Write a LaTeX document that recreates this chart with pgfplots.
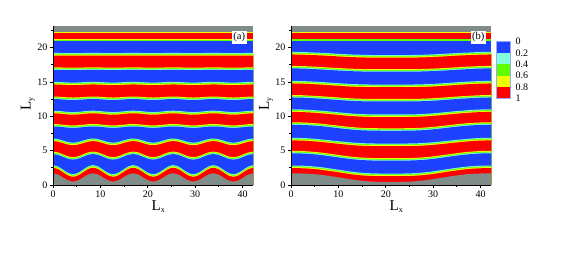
\documentclass[border=0pt]{standalone}
\usepackage{pgfplots}
\usepackage{pgfplotstable}
\pgfplotsset{compat=1.18}
\usepackage{fontspec}
\setmainfont{Liberation Serif}
\definecolor{cB}{HTML}{1E40FF}
\definecolor{cC}{HTML}{80FFD8}
\definecolor{cG}{HTML}{60FF00}
\definecolor{cY}{HTML}{F0FF00}
\definecolor{cR}{HTML}{FF0000}
\definecolor{cS}{HTML}{808C88}
\pgfplotstableread{
x I0 I1 I2 I3 I4 I5 I6 I7 I8 I9
0.00 1.70 2.67 4.60 6.55 8.62 10.60 12.62 14.80 16.87 19.01
1.06 1.52 2.47 4.48 6.46 8.59 10.57 12.60 14.79 16.86 19.01
2.12 1.10 2.01 4.20 6.25 8.52 10.50 12.55 14.75 16.85 19.00
3.17 0.68 1.55 3.92 6.04 8.45 10.43 12.50 14.71 16.84 18.99
4.23 0.50 1.36 3.80 5.95 8.42 10.40 12.48 14.70 16.83 18.99
5.29 0.68 1.55 3.92 6.04 8.45 10.43 12.50 14.71 16.84 18.99
6.35 1.10 2.01 4.20 6.25 8.52 10.50 12.55 14.75 16.85 19.00
7.40 1.52 2.47 4.48 6.46 8.59 10.57 12.60 14.79 16.86 19.01
8.46 1.70 2.67 4.60 6.55 8.62 10.60 12.62 14.80 16.87 19.01
9.52 1.52 2.47 4.48 6.46 8.59 10.57 12.60 14.79 16.86 19.01
10.58 1.10 2.01 4.20 6.25 8.52 10.50 12.55 14.75 16.85 19.00
11.63 0.68 1.55 3.92 6.04 8.45 10.43 12.50 14.71 16.84 18.99
12.69 0.50 1.36 3.80 5.95 8.42 10.40 12.48 14.70 16.83 18.99
13.75 0.68 1.55 3.92 6.04 8.45 10.43 12.50 14.71 16.84 18.99
14.81 1.10 2.01 4.20 6.25 8.52 10.50 12.55 14.75 16.85 19.00
15.86 1.52 2.47 4.48 6.46 8.59 10.57 12.60 14.79 16.86 19.01
16.92 1.70 2.67 4.60 6.55 8.62 10.60 12.62 14.80 16.87 19.01
17.98 1.52 2.47 4.48 6.46 8.59 10.57 12.60 14.79 16.86 19.01
19.04 1.10 2.01 4.20 6.25 8.52 10.50 12.55 14.75 16.85 19.00
20.09 0.68 1.55 3.92 6.04 8.45 10.43 12.50 14.71 16.84 18.99
21.15 0.50 1.36 3.80 5.95 8.42 10.40 12.48 14.70 16.83 18.99
22.21 0.68 1.55 3.92 6.04 8.45 10.43 12.50 14.71 16.84 18.99
23.27 1.10 2.01 4.20 6.25 8.52 10.50 12.55 14.75 16.85 19.00
24.32 1.52 2.47 4.48 6.46 8.59 10.57 12.60 14.79 16.86 19.01
25.38 1.70 2.67 4.60 6.55 8.62 10.60 12.62 14.80 16.87 19.01
26.44 1.52 2.47 4.48 6.46 8.59 10.57 12.60 14.79 16.86 19.01
27.50 1.10 2.01 4.20 6.25 8.52 10.50 12.55 14.75 16.85 19.00
28.55 0.68 1.55 3.92 6.04 8.45 10.43 12.50 14.71 16.84 18.99
29.61 0.50 1.36 3.80 5.95 8.42 10.40 12.48 14.70 16.83 18.99
30.67 0.68 1.55 3.92 6.04 8.45 10.43 12.50 14.71 16.84 18.99
31.73 1.10 2.01 4.20 6.25 8.52 10.50 12.55 14.75 16.85 19.00
32.78 1.52 2.47 4.48 6.46 8.59 10.57 12.60 14.79 16.86 19.01
33.84 1.70 2.67 4.60 6.55 8.62 10.60 12.62 14.80 16.87 19.01
34.90 1.52 2.47 4.48 6.46 8.59 10.57 12.60 14.79 16.86 19.01
35.96 1.10 2.01 4.20 6.25 8.52 10.50 12.55 14.75 16.85 19.00
37.01 0.68 1.55 3.92 6.04 8.45 10.43 12.50 14.71 16.84 18.99
38.07 0.50 1.36 3.80 5.95 8.42 10.40 12.48 14.70 16.83 18.99
39.13 0.68 1.55 3.92 6.04 8.45 10.43 12.50 14.71 16.84 18.99
40.19 1.10 2.01 4.20 6.25 8.52 10.50 12.55 14.75 16.85 19.00
41.24 1.52 2.47 4.48 6.46 8.59 10.57 12.60 14.79 16.86 19.01
42.30 1.70 2.67 4.60 6.55 8.62 10.60 12.62 14.80 16.87 19.01
}\tabA
\pgfplotstableread{
x I0 I1 I2 I3 I4 I5 I6 I7 I8 I9
0.00 1.70 2.62 4.72 6.65 8.88 10.80 12.85 14.95 17.08 19.17
2.12 1.68 2.60 4.69 6.63 8.85 10.78 12.82 14.92 17.06 19.15
4.23 1.62 2.52 4.60 6.55 8.78 10.71 12.75 14.86 17.00 19.09
6.35 1.48 2.37 4.46 6.42 8.66 10.60 12.66 14.78 16.92 19.03
8.46 1.28 2.17 4.26 6.27 8.50 10.47 12.56 14.68 16.83 18.95
10.58 1.05 1.95 4.06 6.12 8.33 10.33 12.45 14.58 16.75 18.86
12.69 0.82 1.73 3.87 5.98 8.18 10.20 12.36 14.49 16.68 18.79
14.81 0.63 1.57 3.74 5.88 8.07 10.11 12.30 14.44 16.63 18.74
16.92 0.50 1.48 3.67 5.83 8.02 10.06 12.27 14.41 16.60 18.71
19.04 0.45 1.45 3.65 5.82 8.00 10.05 12.27 14.40 16.60 18.70
21.15 0.45 1.45 3.65 5.82 8.00 10.05 12.27 14.40 16.60 18.70
23.27 0.45 1.45 3.65 5.82 8.00 10.05 12.27 14.40 16.60 18.70
25.38 0.50 1.48 3.67 5.83 8.02 10.06 12.27 14.41 16.60 18.71
27.50 0.63 1.57 3.74 5.88 8.07 10.11 12.30 14.44 16.63 18.74
29.61 0.82 1.73 3.87 5.98 8.18 10.20 12.36 14.49 16.68 18.79
31.73 1.05 1.95 4.06 6.12 8.33 10.33 12.45 14.58 16.75 18.86
33.84 1.28 2.17 4.26 6.27 8.50 10.47 12.56 14.68 16.83 18.95
35.96 1.48 2.37 4.46 6.42 8.66 10.60 12.66 14.78 16.92 19.03
38.07 1.62 2.52 4.60 6.55 8.78 10.71 12.75 14.86 17.00 19.09
40.19 1.68 2.60 4.69 6.63 8.85 10.78 12.82 14.92 17.06 19.15
42.30 1.70 2.62 4.72 6.65 8.88 10.80 12.85 14.95 17.08 19.17
}\tabB
% one colour boundary: fill everything below the curve (painted from the top down)
\newcommand\lay[4]{\addplot[fill=#4,draw=none,smooth,forget plot] table[x=x,y expr=\thisrow{#2}+#3]{#1} \closedcycle;}
% going downward: red above, blue below
\newcommand\RoverB[2]{\lay{#1}{#2}{0.26}{cY}\lay{#1}{#2}{0.14}{cG}\lay{#1}{#2}{0.02}{cC}\lay{#1}{#2}{-0.10}{cB}}
% going downward: blue above, red below
\newcommand\BoverR[2]{\lay{#1}{#2}{0.22}{cC}\lay{#1}{#2}{0.10}{cG}\lay{#1}{#2}{-0.02}{cY}\lay{#1}{#2}{-0.16}{cR}}
\newcommand\stack[3]{%
 \addplot[fill=cY,draw=none,forget plot] coordinates {(0,22.3)(42.3,22.3)} \closedcycle;
 \addplot[fill=cR,draw=none,forget plot] coordinates {(0,22.16)(42.3,22.16)} \closedcycle;
 \addplot[fill=cY,draw=none,forget plot] coordinates {(0,#2)(42.3,#2)} \closedcycle;
 \addplot[fill=cG,draw=none,forget plot] coordinates {(0,#3)(42.3,#3)} \closedcycle;
 \addplot[fill=cB,draw=none,forget plot] coordinates {(0,21.0)(42.3,21.0)} \closedcycle;
 \BoverR{#1}{I9}\RoverB{#1}{I8}\BoverR{#1}{I7}\RoverB{#1}{I6}\BoverR{#1}{I5}
 \RoverB{#1}{I4}\BoverR{#1}{I3}\RoverB{#1}{I2}\BoverR{#1}{I1}
 \lay{#1}{I0}{0}{cS}
}
\pgfplotsset{panel/.style={
 scale only axis,width=200.4bp,height=159.3bp,anchor=south west,
 xmin=0,xmax=42.3,ymin=0,ymax=23.2,
 axis on top,axis background/.style={fill=cS},
 axis y line*=left,axis x line*=bottom,
 axis line style={-,line width=1pt},
 xtick={0,10,20,30,40},ytick={0,5,10,15,20},
 minor xtick={5,15,25,35},minor ytick={2.5,7.5,12.5,17.5,22.5},
 tick align=outside,tick style={black,line width=0.7pt},
 major tick length=3bp,minor tick length=2bp,
 /pgf/number format/assume math mode=true,
 tick label style={font=\fontsize{10bp}{10bp}\selectfont},
 xticklabel style={yshift=1bp},yticklabel style={xshift=1bp},
 every axis x label/.style={at={(axis description cs:0.525,-0.135)},anchor=center},
 every axis y label/.style={at={(axis description cs:-0.125,0.51)},anchor=center,rotate=90},
 label style={font=\fontsize{15bp}{15bp}\selectfont},
 xlabel={L\raisebox{-2.5bp}{\fontsize{8bp}{8bp}\selectfont x}},
 ylabel={L\raisebox{-2.5bp}{\fontsize{8bp}{8bp}\selectfont y}},
 clip=true
}}
\begin{document}
\begin{tikzpicture}
\path[use as bounding box] (0,0) rectangle (562bp,256bp);
\begin{axis}[panel,at={(53bp,71bp)}]
\stack{\tabA}{21.2}{21.12}
\node[fill=white,inner sep=1.5bp,font=\fontsize{10.5bp}{10.5bp}\selectfont] at (axis cs:39.3,21.5) {(a)};
\end{axis}
\begin{axis}[panel,at={(291bp,71bp)}]
\stack{\tabB}{21.3}{21.2}
\node[fill=white,inner sep=1.5bp,font=\fontsize{10.5bp}{10.5bp}\selectfont] at (axis cs:39.5,21.5) {(b)};
\end{axis}
\begin{axis}[scale only axis,width=14bp,height=56.6bp,anchor=south west,at={(496bp,157.7bp)},
 xmin=0,xmax=1,ymin=0,ymax=5,axis line style={color=cB!45!white,line width=0.5pt},xtick=\empty,axis on top,
 ytick={0,1,2,3,4,5},yticklabels={1,0.8,0.6,0.4,0.2,0},
 ytick pos=right,tick style={draw=none},
 /pgf/number format/assume math mode=true,
 yticklabel style={font=\fontsize{10bp}{10bp}\selectfont,anchor=west,xshift=2bp}]
\addplot[fill=cB,draw=none] coordinates {(0,5)(1,5)} \closedcycle;
\addplot[fill=cC,draw=none] coordinates {(0,4)(1,4)} \closedcycle;
\addplot[fill=cG,draw=none] coordinates {(0,3)(1,3)} \closedcycle;
\addplot[fill=cY,draw=none] coordinates {(0,2)(1,2)} \closedcycle;
\addplot[fill=cR,draw=none] coordinates {(0,1)(1,1)} \closedcycle;
\end{axis}
\end{tikzpicture}
\end{document}
